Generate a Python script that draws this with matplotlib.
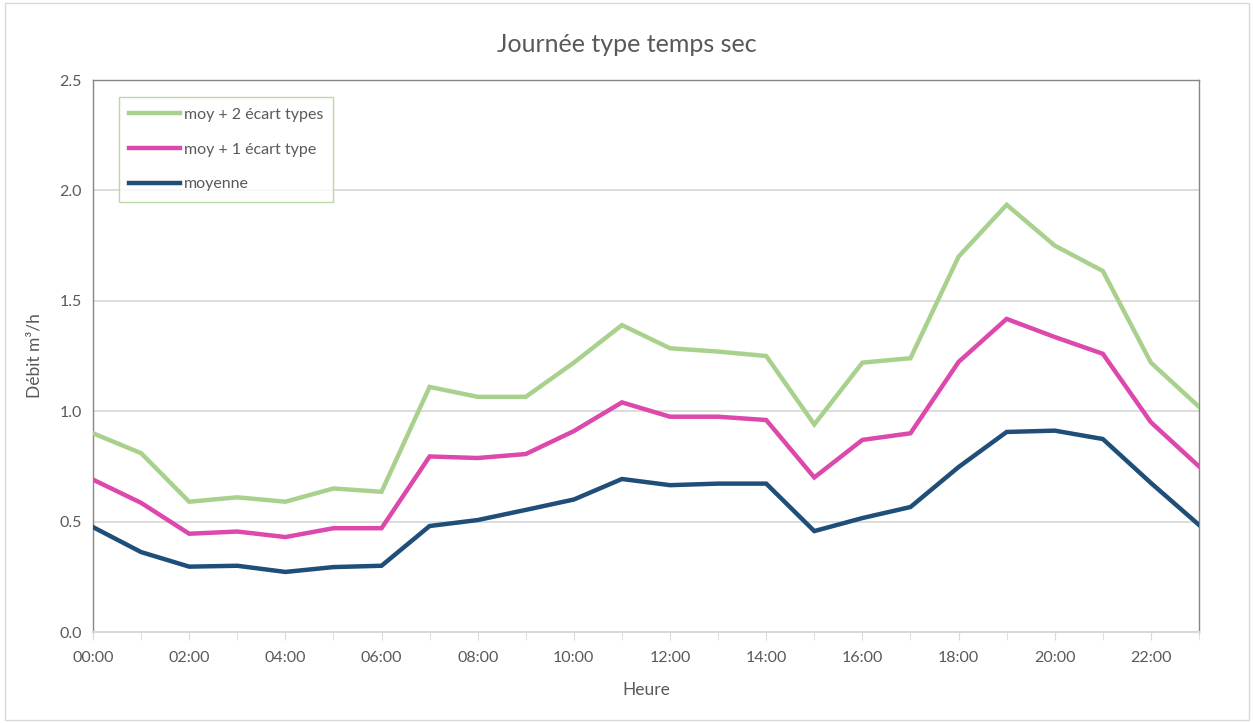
import matplotlib.pyplot as plt
import numpy as np
from matplotlib.patches import Rectangle

plt.rcParams['font.family'] = ['Lato', 'DejaVu Sans']

hours = ["%02d:00" % h for h in range(24)]
moy_2 = [0.90, 0.81, 0.59, 0.61, 0.59, 0.65, 0.635, 1.11, 1.065, 1.065, 1.22, 1.39,
         1.285, 1.27, 1.25, 0.94, 1.22, 1.24, 1.70, 1.935, 1.75, 1.635, 1.22, 1.02]
moy_1 = [0.69, 0.585, 0.445, 0.455, 0.43, 0.47, 0.47, 0.795, 0.788, 0.806, 0.91, 1.04,
         0.975, 0.975, 0.96, 0.70, 0.87, 0.90, 1.223, 1.418, 1.336, 1.26, 0.95, 0.75]
moyenne = [0.475, 0.362, 0.296, 0.30, 0.272, 0.294, 0.30, 0.48, 0.507, 0.553, 0.60, 0.693,
           0.665, 0.672, 0.672, 0.457, 0.516, 0.566, 0.747, 0.906, 0.912, 0.874, 0.675, 0.485]

labels = ['moy + 2 écart types', 'moy + 1 écart type', 'moyenne']
colors = ['#A9D18E', '#DD48AD', '#1F4E79']
txt = '#595959'

fig = plt.figure(figsize=(12.54, 7.23), dpi=100)
ax = fig.add_axes([93 / 1254, 1 - 632 / 723, (1199 - 93) / 1254, (632 - 80) / 723])

x = np.arange(24)
for vals, lab, col in zip([moy_2, moy_1, moyenne], labels, colors):
    ax.plot(x, vals, color=col, lw=3.2, label=lab, solid_joinstyle='miter', zorder=3)

ax.set_xlim(0, 23)
ax.set_ylim(0, 2.5)
ax.set_yticks(np.arange(0, 2.51, 0.5))
ax.set_yticklabels(["%.1f" % v for v in np.arange(0, 2.51, 0.5)])
ax.set_xticks(x, minor=True)
ax.set_xticks(x[::2])
ax.set_xticklabels(hours[::2])
ax.grid(axis='y', color='#D9D9D9', lw=1.3, zorder=0)
ax.tick_params(axis='y', length=0, labelsize=11.5, colors=txt, pad=8)
ax.tick_params(axis='x', which='both', length=6, direction='out', color='#D9D9D9', labelsize=11.5, labelcolor=txt, pad=8)
for s in ['left', 'top', 'right']:
    ax.spines[s].set_color('#868686')
    ax.spines[s].set_linewidth(1.0)
ax.spines['bottom'].set_color('#D9D9D9')
ax.spines['bottom'].set_linewidth(1.5)

ax.set_xlabel('Heure', fontsize=12.5, color=txt, labelpad=12)
ax.set_ylabel('Débit m³/h', fontsize=12.5, color=txt, labelpad=12)
fig.text(0.5, 1 - 45 / 723, 'Journée type temps sec', ha='center', va='center', fontsize=18, color=txt)

leg = ax.legend(loc='upper left', bbox_to_anchor=((119 - 93) / 1106, 1 - (97 - 80) / 552),
                fontsize=11.5, frameon=True, fancybox=False, handlelength=3.2, handletextpad=0.2,
                labelspacing=1.3, borderpad=0.65, labelcolor=txt, borderaxespad=0)
leg.get_frame().set_edgecolor('#A9D18E')
leg.get_frame().set_linewidth(1.0)

fig.patches.append(Rectangle((0.004, 0.004), 0.992, 0.992, transform=fig.transFigure,
                             fill=False, edgecolor='#D9D9D9', lw=1.0))

fig.savefig('out.png', dpi=100)
